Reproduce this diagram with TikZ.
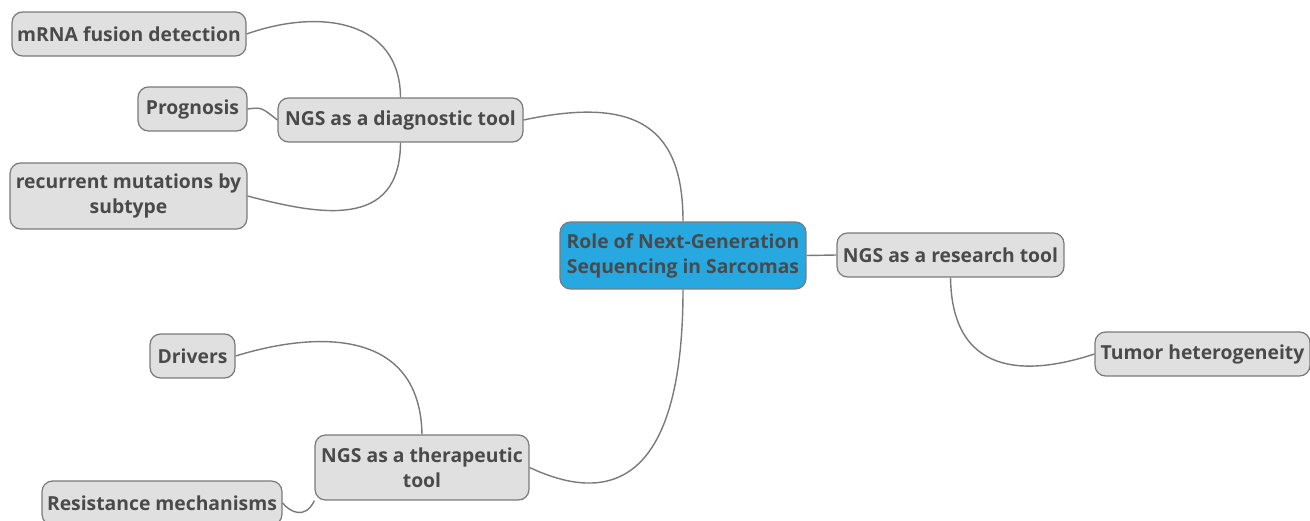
\documentclass[tikz,border=0pt]{standalone}
\usepackage{fontspec}
\setmainfont{Open Sans}
\usepackage{tikz}
\usetikzlibrary{positioning}
\definecolor{mapline}{HTML}{7A7A7A}
\definecolor{mapbox}{HTML}{E0E0E0}
\definecolor{maproot}{HTML}{27A8E0}
\definecolor{maptext}{HTML}{4A4A4A}

\begin{document}
\begin{tikzpicture}[
  x=0.02cm,y=-0.02cm,
  font=\fontsize{11}{14.2}\selectfont\bfseries,
  leaf/.style={draw=mapline,line width=0.7pt,rounded corners=6pt,fill=mapbox,
               text=maptext,minimum height=0.88cm,align=center,inner sep=2pt},
  root/.style={leaf,fill=maproot,minimum height=1.34cm},
  link/.style={draw=mapline,line width=0.8pt},
]
\useasboundingbox (0,0) rectangle (1310,520);

% Central topic
\node[root,minimum width=4.92cm] (core) at (683,255.5) {Role of Next-Generation\\Sequencing in Sarcomas};

% Main branches
\node[leaf,minimum width=4.9cm] (diag) at (400.5,120) {NGS as a diagnostic tool};
\node[leaf,minimum width=4.54cm] (res) at (950.5,255) {NGS as a research tool};
\node[leaf,minimum width=4.28cm,minimum height=1.3cm] (ther) at (422,467.5) {NGS as a therapeutic\\tool};

% Leaves
\node[leaf,minimum width=4.68cm] (fus) at (129,34) {mRNA fusion detection};
\node[leaf,minimum width=2.18cm] (prog) at (192.5,109) {Prognosis};
\node[leaf,minimum width=4.74cm,minimum height=1.32cm] (rec) at (128.5,196) {recurrent mutations by\\subtype};
\node[leaf,minimum width=4.3cm] (tum) at (1202.5,354) {Tumor heterogeneity};
\node[leaf,minimum width=1.7cm] (drv) at (192.5,356) {Drivers};
\node[leaf,minimum width=4.8cm] (resist) at (162,503) {Resistance mechanisms};

% Connectors
\draw[link] (core.north) .. controls (683,130) and (640,95) .. (diag.east);
\draw[link] (core.south) .. controls (683,470) and (620,510) .. (ther.east);
\draw[link] (core.east) -- (res.west);
\draw[link] (diag.north) .. controls (400,20) and (320,8) .. (fus.east);
\draw[link] (diag.west) .. controls (262,108) and (262,107) .. (prog.east);
\draw[link] (diag.south) .. controls (400,230) and (320,215) .. (rec.east);
\draw[link] (res.south) .. controls (952,385) and (1040,372) .. (tum.west);
\draw[link] (ther.north) .. controls (420,330) and (320,330) .. (drv.east);
\draw[link] (ther.south west) .. controls (305,520) and (290,512) .. (resist.east);
\end{tikzpicture}
\end{document}
